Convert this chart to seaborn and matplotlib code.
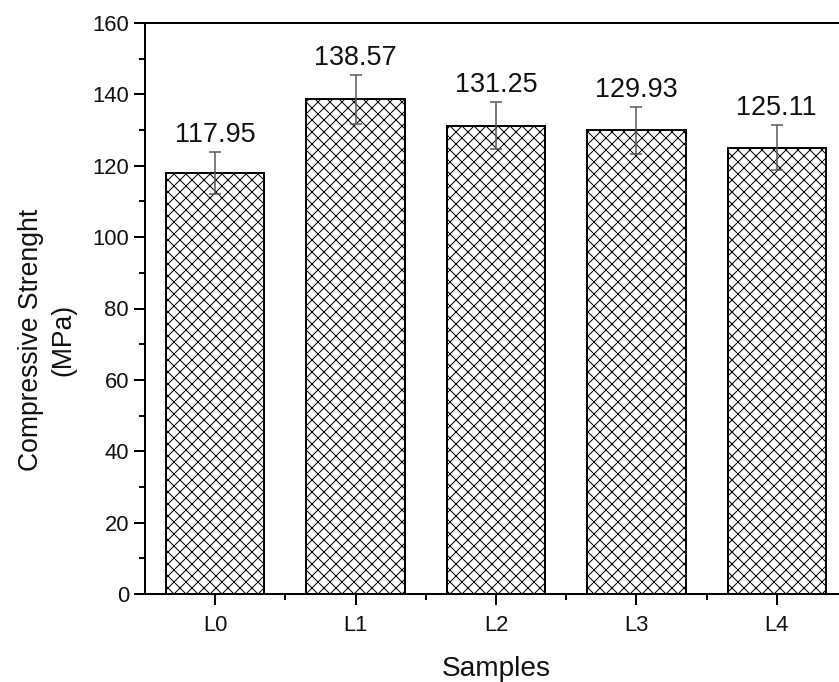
import matplotlib
matplotlib.use("Agg")
import matplotlib.pyplot as plt
import seaborn as sns
import pandas as pd
from matplotlib.ticker import MultipleLocator

samples = ["L0", "L1", "L2", "L3", "L4"]
strength = [117.95, 138.57, 131.25, 129.93, 125.11]
errors = [5.9, 6.9, 6.5, 6.5, 6.2]
value_labels = ["117.95", "138.57", "131.25", "129.93", "125.11"]

sns.set_theme(style="ticks")
plt.rcParams["font.family"] = ["Liberation Sans", "DejaVu Sans"]
plt.rcParams["hatch.linewidth"] = 1.0

DPI = 72
fig = plt.figure(figsize=(839 / DPI, 682 / DPI), dpi=DPI)
ax = fig.add_axes([145 / 839, 1 - 594 / 682, (847 - 145) / 839, (594 - 23) / 682])

df = pd.DataFrame({"Sample": samples, "Strength": strength})
sns.barplot(data=df, x="Sample", y="Strength", color="white", edgecolor="black",
            linewidth=2, width=0.7, hatch="xx", ax=ax, errorbar=None)
for p in ax.patches:
    p.set_facecolor("white")
    p.set_hatch("xx")
    if hasattr(p, "set_hatchcolor"):
        p.set_hatchcolor("#2a2a2a")

ax.errorbar(range(len(samples)), strength, yerr=errors, fmt="none",
            ecolor="#555555", elinewidth=1.5, capsize=6, capthick=1.5, zorder=5)

for i, (v, e, lab) in enumerate(zip(strength, errors, value_labels)):
    ax.text(i, v + e + 1.2, lab, ha="center", va="bottom", fontsize=27, color="#111111")

ax.set_xlim(-0.5, 4.5)
ax.set_ylim(0, 160)
ax.yaxis.set_major_locator(MultipleLocator(20))
ax.yaxis.set_minor_locator(MultipleLocator(10))
ax.set_xticks(range(len(samples)))
ax.set_xticks([0.5, 1.5, 2.5, 3.5], minor=True)

ax.tick_params(axis="both", which="major", direction="out", length=11, width=2,
               labelsize=22, color="black", labelcolor="#111111")
ax.tick_params(axis="x", which="major", pad=10)
ax.tick_params(axis="y", which="major", pad=5)
ax.tick_params(axis="both", which="minor", direction="out", length=6, width=2, color="black")

for s in ax.spines.values():
    s.set_visible(True)
    s.set_linewidth(2)
    s.set_color("black")

ax.set_xlabel("Samples", fontsize=28, labelpad=20, color="#111111")
ax.set_ylabel("Compressive Strenght\n(MPa)", fontsize=26.5, color="#111111", linespacing=1.3)
ax.yaxis.set_label_coords(-0.098, 0.445)

fig.savefig("out.png", dpi=DPI)
